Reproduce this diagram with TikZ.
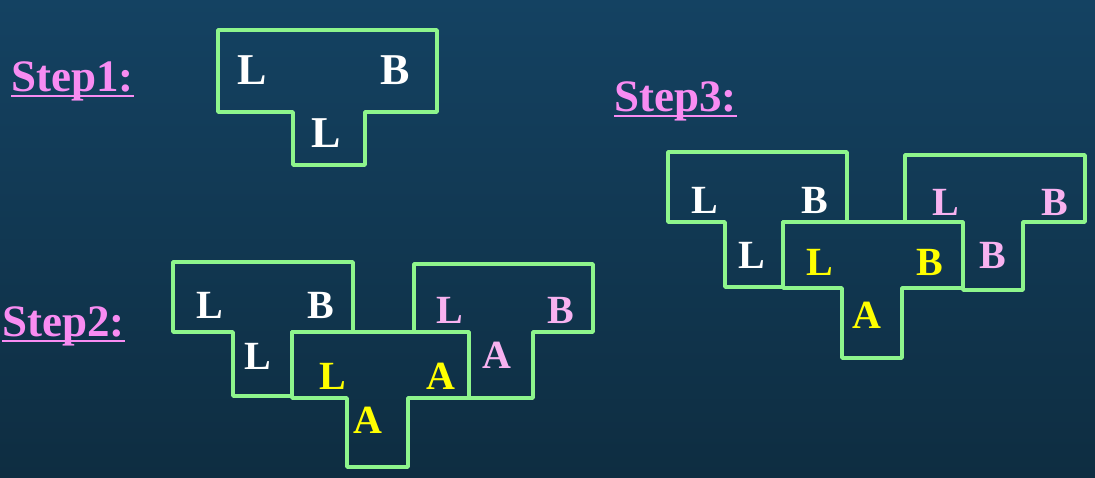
\documentclass[tikz,border=0pt]{standalone}
\usepackage{fontspec}
\setmainfont{Liberation Serif}
\definecolor{bgtop}{HTML}{144262}
\definecolor{bgbot}{HTML}{0E2D41}
\definecolor{tgreen}{HTML}{8EF58C}
\definecolor{steppink}{HTML}{F88CF2}
\definecolor{lpink}{HTML}{F8B2F0}
\definecolor{lyellow}{HTML}{FFFF00}
% outer box x1..x2, y1..y2, stem s1..s2 down to y3
\newcommand{\teeshape}[7]{\draw[tee] (#1,#3) -- (#2,#3) -- (#2,#4) -- (#6,#4) -- (#6,#7) -- (#5,#7) -- (#5,#4) -- (#1,#4) -- cycle;}

\begin{document}
\begin{tikzpicture}[x=1pt, y=-1pt,
  tee/.style={draw=tgreen, line width=3.5pt, line join=round},
  steplbl/.style={text=steppink, font=\bfseries\fontsize{45}{45}\selectfont, inner sep=0pt},
  big/.style={font=\bfseries\fontsize{44}{44}\selectfont, inner sep=0pt},
  let/.style={font=\bfseries\fontsize{40}{40}\selectfont, inner sep=0pt},
  wh/.style={text=white}, pk/.style={text=lpink}, yl/.style={text=lyellow}]
\shade[top color=bgtop, bottom color=bgbot] (0,0) rectangle (1095,478);
\useasboundingbox (0,0) rectangle (1095,478);

% step labels
\node[steplbl, anchor=base west] (s1) at (11,92) {Step1:};
\node[steplbl, anchor=base west] (s2) at (2,337) {Step2:};
\node[steplbl, anchor=base west] (s3) at (614,112) {Step3:};
\foreach \s in {s1,s2,s3}
  \draw[steppink, line width=2.5pt] ([yshift=-4pt]\s.base west) -- ([yshift=-4pt]\s.base east);

% step 1
\teeshape{218}{437}{30}{112}{293}{365}{165}
\node[big, wh] (a1) at (252,70) {L};
\node[big, wh] (a2) at (395,70) {B};
\node[big, wh] (a3) at (326,133) {L};

% step 2
\teeshape{173}{353}{262}{332}{233}{292}{396}
\teeshape{414}{593}{264}{332}{469}{533}{398}
\teeshape{292}{469}{332}{398}{347}{408}{467}
\node[let, wh] (b1) at (210,305) {L};
\node[let, wh] (b2) at (321,305) {B};
\node[let, wh] (b3) at (258,356) {L};
\node[let, pk] (b4) at (450,310) {L};
\node[let, pk] (b5) at (561,310) {B};
\node[let, pk] (b6) at (497,355) {A};
\node[let, yl] (b7) at (333,376) {L};
\node[let, yl] (b8) at (441,376) {A};
\node[let, yl] (b9) at (368,420) {A};

% step 3
\teeshape{668}{847}{152}{222}{725}{783}{287}
\teeshape{905}{1085}{155}{222}{963}{1023}{290}
\teeshape{783}{963}{222}{288}{842}{902}{358}
\node[let, wh] (c1) at (705,200) {L};
\node[let, wh] (c2) at (815,200) {B};
\node[let, wh] (c3) at (752,255) {L};
\node[let, pk] (c4) at (946,202) {L};
\node[let, pk] (c5) at (1055,202) {B};
\node[let, pk] (c6) at (993,255) {B};
\node[let, yl] (c7) at (820,262) {L};
\node[let, yl] (c8) at (930,262) {B};
\node[let, yl] (c9) at (867,315) {A};
\end{tikzpicture}
\end{document}
